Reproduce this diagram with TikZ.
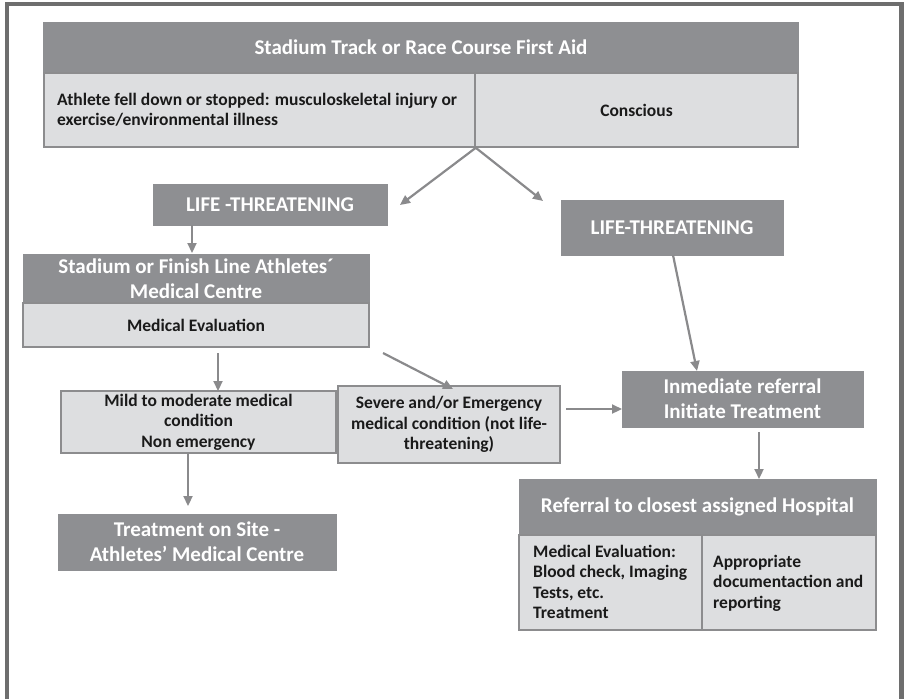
\documentclass[tikz,border=0pt]{standalone}
\usepackage{fontspec}
\setmainfont{Carlito}
\usetikzlibrary{arrows.meta}
\definecolor{hdr}{HTML}{8E8F92}
\definecolor{cell}{HTML}{DDDEE0}
\definecolor{cellline}{HTML}{8C8C8E}
\definecolor{framec}{HTML}{6E6E6E}
\definecolor{arr}{HTML}{8A8A8C}
\definecolor{txt}{HTML}{1A1A1A}
\newcommand\myHfont{\bfseries\fontsize{21}{25}\selectfont}
\newcommand\myBfont{\bfseries\fontsize{17.5}{20.5}\selectfont}
\begin{document}
\begin{tikzpicture}[x=1pt,y=-1pt,
 hdrbox/.style={fill=hdr, draw=hdr, line width=0.8pt, text=white, font=\myHfont, inner sep=0pt, align=center},
 cellbox/.style={fill=cell, draw=cellline, line width=1.6pt, text=txt, font=\myBfont, inner sep=0pt, align=center},
 celltext/.style={text=txt, font=\myBfont, inner sep=0pt, align=left, anchor=west},
 conn/.style={draw=arr, line width=2.2pt, -{Triangle[length=10pt,width=9pt]}},
]
\useasboundingbox (0,0) rectangle (904,699);
\draw[framec, line width=4pt] (7,699) -- (7,4) -- (901,4);
\draw[framec, line width=5pt] (901,2) -- (901,699);

% top box
\node[hdrbox, minimum width=755, minimum height=51] (title) at (421,47.5) {Stadium Track or Race Course First Aid};
\node[cellbox, minimum width=431, minimum height=74] (topL) at (259.5,110) {};
\node[celltext] (topLt) at (57,110) {Athlete fell down or stopped: musculoskeletal injury or\\exercise/environmental illness};
\node[cellbox, minimum width=323, minimum height=74] (topR) at (636.5,110) {Conscious};

% life-threatening boxes
\node[hdrbox, minimum width=234, minimum height=41] (lifeL) at (270,204.5) {LIFE -THREATENING};
\node[hdrbox, minimum width=222, minimum height=55] (lifeR) at (672,227.5) {LIFE-THREATENING};

% stadium medical centre
\node[hdrbox, minimum width=346, minimum height=50] (stad) at (196,279) {Stadium or Finish Line Athletes\textasciiacute\\Medical Centre};
\node[cellbox, minimum width=346, minimum height=44] (stadB) at (196,325) {Medical Evaluation};

% conditions
\node[cellbox, minimum width=275, minimum height=62] (mild) at (198.5,422) {Mild to moderate medical\\condition\\Non emergency};
\node[cellbox, minimum width=222, minimum height=77] (severe) at (449,424.5) {Severe and/or Emergency\\medical condition (not life-\\threatening)};
\node[hdrbox, minimum width=278, minimum height=56] (treat) at (197,542) {Treatment on Site -\\Athletes’ Medical Centre};
\node[hdrbox, minimum width=241, minimum height=56] (inmed) at (742.5,399) {Inmediate referral\\Initiate Treatment};

% hospital
\node[hdrbox, minimum width=357, minimum height=56] (refH) at (697.5,507) {Referral to closest assigned Hospital};
\node[cellbox, minimum width=183, minimum height=95] (refL) at (610.5,582.5) {};
\node[cellbox, minimum width=174, minimum height=95] (refR) at (789,582.5) {};
\node[celltext] (refLt) at (533,582) {Medical Evaluation:\\Blood check, Imaging\\Tests, etc.\\Treatment};
\node[celltext] (refRt) at (713,583) {Appropriate\\documentaction and\\reporting};

% connector end points
\coordinate (e1) at (400,205);
\coordinate (e2) at (543,201);
\coordinate (s3) at (192,225);
\coordinate (e3) at (192,253);
\coordinate (s4) at (218,353);
\coordinate (e4) at (218,391);
\coordinate (s5) at (383,353);
\coordinate (e5) at (453,389);
\coordinate (s6) at (566,409);
\coordinate (e6) at (622,409);
\coordinate (s7) at (673,255);
\coordinate (e7) at (697,371);
\coordinate (s8) at (759,432);
\coordinate (e8) at (759,479);
\coordinate (s9) at (188,453);
\coordinate (e9) at (188,506);

\draw[conn] (topL.south east) -- (e1);
\draw[conn] (topL.south east) -- (e2);
\draw[conn] (s3) -- (e3);
\draw[conn] (s4) -- (e4);
\draw[conn] (s5) -- (e5);
\draw[conn] (s6) -- (e6);
\draw[conn] (s7) -- (e7);
\draw[conn] (s8) -- (e8);
\draw[conn] (s9) -- (e9);
\end{tikzpicture}
\end{document}
